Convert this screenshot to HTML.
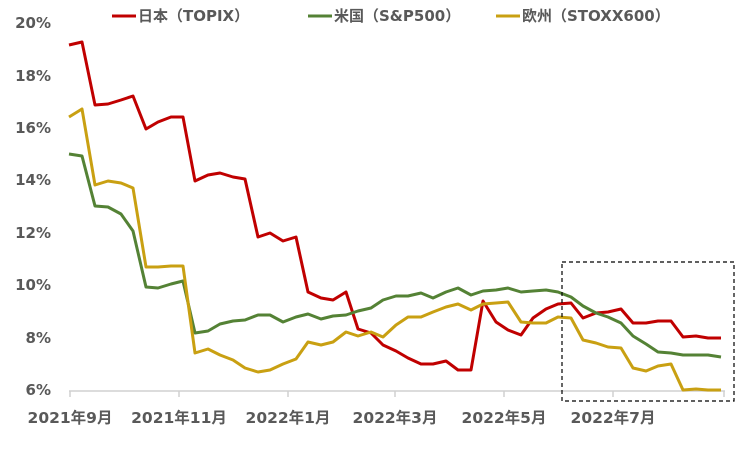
<!DOCTYPE html>
<html><head><meta charset="utf-8"><style>
body{margin:0;background:#fff;}
svg text{font-family:"DejaVu Sans","Noto Sans CJK JP",sans-serif;font-weight:bold;fill:#595959;}
</style></head><body>
<svg width="746" height="453" xmlns="http://www.w3.org/2000/svg">
<g font-size="15" text-anchor="end">
<text x="51" y="28">20%</text>
<text x="51" y="81">18%</text>
<text x="51" y="133">16%</text>
<text x="51" y="185">14%</text>
<text x="51" y="238">12%</text>
<text x="51" y="290">10%</text>
<text x="51" y="343">8%</text>
<text x="51" y="395">6%</text>
</g>
<line x1="69" y1="391" x2="725" y2="391" stroke="#d0d0d0" stroke-width="1.5"/>
<g stroke="#d0d0d0" stroke-width="1.5">
<line x1="70" y1="391" x2="70" y2="397"/><line x1="179" y1="391" x2="179" y2="397"/><line x1="288" y1="391" x2="288" y2="397"/><line x1="395" y1="391" x2="395" y2="397"/><line x1="504" y1="391" x2="504" y2="397"/><line x1="613" y1="391" x2="613" y2="397"/><line x1="724" y1="391" x2="724" y2="397"/>
</g>
<g font-size="15.5" text-anchor="middle">
<text x="70" y="423">2021年9月</text>
<text x="179" y="423">2021年11月</text>
<text x="288" y="423">2022年1月</text>
<text x="395" y="423">2022年3月</text>
<text x="504" y="423">2022年5月</text>
<text x="613" y="423">2022年7月</text>
</g>
<g fill="none" stroke-width="3" stroke-linejoin="round">
<polyline stroke="#c00000" points="69,45 82,42 95,105 108,104 121,100 133,96 146,129 158,122 171,117 183,117 195,181 208,175 220,173 233,177 245,179 258,237 270,233 283,241 296,237 308,292 321,298 333,300 346,292 358,329 371,333 383,345 396,351 408,358 421,364 433,364 446,361 458,370 471,370 483,301 496,322 508,330 521,335 533,318 546,309 558,304 571,303 583,318 596,313 608,312 621,309 633,323 646,323 658,321 671,321 683,337 696,336 708,338 721,338"/>
<polyline stroke="#548235" points="69,154 82,156 95,206 108,207 121,214 133,231 146,287 158,288 171,284 183,281 195,333 208,331 220,324 233,321 245,320 258,315 270,315 283,322 296,317 308,314 321,319 333,316 346,315 358,311 371,308 383,300 396,296 408,296 421,293 433,298 446,292 458,288 471,295 483,291 496,290 508,288 521,292 533,291 546,290 558,292 571,297 583,306 596,313 608,317 621,323 633,336 646,344 658,352 671,353 683,355 696,355 708,355 721,357"/>
<polyline stroke="#c9a012" points="69,117 82,109 95,185 108,181 121,183 133,188 146,267 158,267 171,266 183,266 195,353 208,349 220,355 233,360 245,368 258,372 270,370 283,364 296,359 308,342 321,345 333,342 346,332 358,336 371,332 383,337 396,325 408,317 421,317 433,312 446,307 458,304 471,310 483,304 496,303 508,302 521,322 533,323 546,323 558,317 571,318 583,340 596,343 608,347 621,348 633,368 646,371 658,366 671,364 683,390 696,389 708,390 721,390"/>
</g>
<rect x="562" y="262" width="172" height="139" fill="none" stroke="#000" stroke-width="1.2" stroke-dasharray="4,3"/>
<g stroke-width="3">
<line x1="112" y1="16" x2="136" y2="16" stroke="#c00000"/>
<line x1="308" y1="16" x2="332" y2="16" stroke="#548235"/>
<line x1="496" y1="16" x2="520" y2="16" stroke="#c9a012"/>
</g>
<g font-size="15">
<text x="138" y="21">日本（TOPIX）</text>
<text x="334" y="21">米国（S&amp;P500）</text>
<text x="522" y="21">欧州（STOXX600）</text>
</g>
</svg>
</body></html>
